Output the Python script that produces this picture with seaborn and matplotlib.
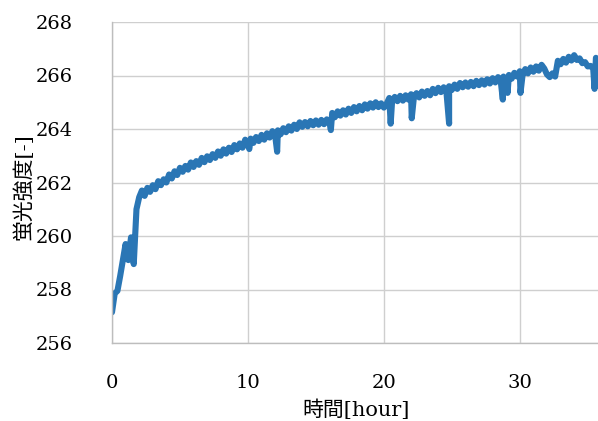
import numpy as np
import pandas as pd
import matplotlib
matplotlib.use("Agg")
import matplotlib.pyplot as plt
import seaborn as sns

# Fluorescence intensity sampled every 0.2 h
step_hours = 0.2
intensity = [
    257.15, 257.85, 257.95, 258.5, 259.1, 259.7, 259.1, 259.95, 258.95, 261.0,
    261.45, 261.7, 261.5, 261.8, 261.65, 261.9, 261.75, 262.05, 261.9, 262.12,
    262.0, 262.3, 262.15, 262.42, 262.28, 262.55, 262.4, 262.62, 262.48, 262.75,
    262.58, 262.8, 262.66, 262.92, 262.76, 262.98, 262.84, 263.06, 262.92, 263.16,
    263.0, 263.24, 263.08, 263.3, 263.14, 263.4, 263.24, 263.46, 263.3, 263.6,
    263.4, 263.64, 263.48, 263.7, 263.55, 263.78, 263.6, 263.84, 263.68, 263.92,
    263.76, 263.95, 263.8, 264.03, 263.88, 264.1, 263.94, 264.16, 264.0, 264.25,
    264.08, 264.26, 264.1, 264.3, 264.14, 264.32, 264.16, 264.34, 264.18, 264.36,
    264.24, 264.6, 264.44, 264.66, 264.5, 264.7, 264.54, 264.76, 264.6, 264.82,
    264.66, 264.86, 264.7, 264.92, 264.76, 264.96, 264.8, 265.0, 264.82, 264.96,
    264.8, 264.94, 265.16, 265.0, 265.2, 265.04, 265.24, 265.06, 265.26, 265.1,
    265.3, 265.14, 265.34, 265.18, 265.4, 265.24, 265.42, 265.26, 265.5, 265.34,
    265.54, 265.38, 265.56, 265.4, 265.6, 265.46, 265.66, 265.5, 265.72, 265.56,
    265.74, 265.58, 265.76, 265.6, 265.8, 265.64, 265.82, 265.66, 265.86, 265.7,
    265.9, 265.74, 265.94, 265.78, 265.96, 265.8, 266.02, 265.88, 266.1, 265.96,
    266.16, 266.0, 266.24, 266.08, 266.3, 266.14, 266.34, 266.18, 266.4, 266.26,
    266.04, 265.94, 266.08, 265.96, 266.55, 266.42, 266.62, 266.48, 266.7, 266.56,
    266.76, 266.58, 266.64, 266.46, 266.5, 266.34, 266.36, 266.26, 266.66, 266.56,
    266.68,
]

# Short downward spikes in the record
dip_hours = [10.1, 12.15, 16.1, 20.5, 22.05, 24.8, 28.75, 29.1, 30.05, 35.5]
dip_values = [263.25, 263.15, 263.96, 264.2, 264.4, 264.2, 265.1, 265.35, 265.35, 265.5]

y_ticks = [256, 258, 260, 262, 264, 266, 268]
x_ticks = [0, 10, 20, 30]

hours = np.round(np.arange(len(intensity)) * step_hours, 2)
df = pd.concat([
    pd.DataFrame({"hour": hours, "value": intensity}),
    pd.DataFrame({"hour": dip_hours, "value": dip_values}),
]).sort_values("hour").reset_index(drop=True)

sns.set_style("whitegrid", {"grid.color": "#cfcfcf", "axes.edgecolor": "#bdbdbd"})

fig = plt.figure(figsize=(5.98, 4.21), dpi=100)
ax = fig.add_axes([112 / 598, 78 / 421, 488 / 598, 321 / 421])

sns.lineplot(data=df, x="hour", y="value", estimator=None, sort=True,
             color="#2a76b5", linewidth=4.4, ax=ax)

ax.set_xlim(0, 35.9)
ax.set_ylim(256, 268)
ax.set_xticks(x_ticks)
ax.set_yticks(y_ticks)
ax.grid(True, color="#cfcfcf", linewidth=1.0)
for side in ["top", "right"]:
    ax.spines[side].set_visible(False)
for side in ["left", "bottom"]:
    ax.spines[side].set_color("#bdbdbd")
    ax.spines[side].set_linewidth(1.0)

ax.tick_params(axis="both", length=0, labelsize=14, colors="#000000")
ax.tick_params(axis="y", pad=28)
ax.tick_params(axis="x", pad=22)
for lbl in ax.get_xticklabels() + ax.get_yticklabels():
    lbl.set_fontfamily("DejaVu Serif")

label_fonts = ["DejaVu Serif", "Noto Sans CJK JP"]
ax.set_xlabel("時間[hour]", fontsize=15, family=label_fonts, color="#000000")
ax.set_ylabel("蛍光強度[-]", fontsize=15, family=label_fonts, color="#000000")
ax.xaxis.set_label_coords((356 - 112) / 488, -(410 - 343) / 321)
ax.yaxis.set_label_coords(-(112 - 23) / 488, (343 - 187) / 321)
ax.xaxis.label.set_va("center")
ax.yaxis.label.set_va("center")

fig.savefig("out.png", dpi=100)
